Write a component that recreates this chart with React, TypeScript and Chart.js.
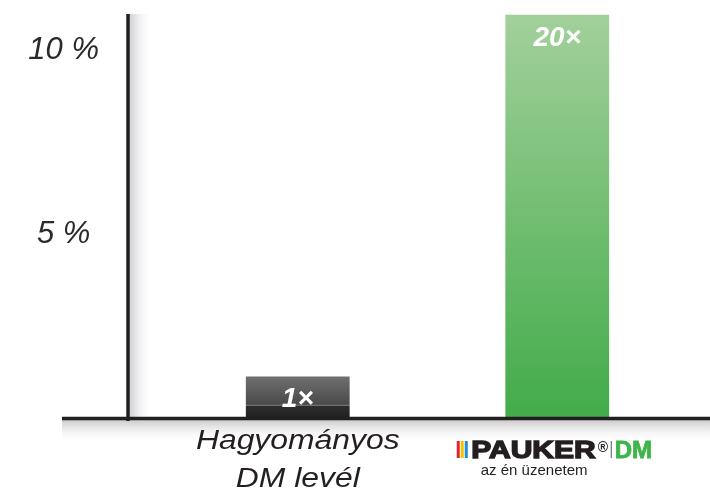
import React, { useEffect, useRef } from 'react';
import { Chart, registerables } from 'chart.js';
Chart.register(...registerables);

const categories = ['Hagyományos\nDM levél', 'PAUKER DM'];
const values = [1.15, 10.95];
const barLabels = ['1×', '20×'];
const yTicks = [5, 10];
const yMax = 11;
const logoBrand = 'PAUKER';
const logoReg = '®';
const logoSuffix = 'DM';
const logoTagline = 'az én üzenetem';
const FONT = '"Liberation Sans", Arial, Helvetica, sans-serif';

export default function App() {
  const ref = useRef<HTMLCanvasElement>(null);
  useEffect(() => {
    const canvas = ref.current!;
    const axisX = 128;
    const baseLeft = 62;

    const decor = {
      id: 'decor',
      beforeDatasetsDraw(chart: any) {
        const { ctx } = chart;
        const y0 = chart.scales.y.getPixelForValue(0);
        const yTop = chart.chartArea.top + 1;
        ctx.save();
        let g = ctx.createLinearGradient(axisX + 1, 0, axisX + 24, 0);
        g.addColorStop(0, 'rgba(196,196,202,0.85)');
        g.addColorStop(1, 'rgba(255,255,255,0)');
        ctx.fillStyle = g;
        ctx.fillRect(axisX + 1, yTop, 23, y0 - yTop);
        g = ctx.createLinearGradient(0, y0 + 1, 0, y0 + 24);
        g.addColorStop(0, 'rgba(190,190,190,0.8)');
        g.addColorStop(1, 'rgba(255,255,255,0)');
        ctx.fillStyle = g;
        ctx.fillRect(baseLeft, y0 + 1, chart.width - baseLeft, 23);
        ctx.restore();
      },
      afterDatasetsDraw(chart: any) {
        const { ctx } = chart;
        const y0 = chart.scales.y.getPixelForValue(0);
        const yTop = chart.chartArea.top + 1;
        ctx.save();
        ctx.strokeStyle = '#231f20';
        ctx.lineWidth = 3.5;
        ctx.beginPath();
        ctx.moveTo(axisX, yTop);
        ctx.lineTo(axisX, y0 + 2);
        ctx.stroke();
        ctx.beginPath();
        ctx.moveTo(baseLeft, y0 - 0.5);
        ctx.lineTo(chart.width, y0 - 0.5);
        ctx.stroke();

        const meta = chart.getDatasetMeta(0);
        ctx.fillStyle = '#ffffff';
        ctx.font = `italic bold 28px ${FONT}`;
        ctx.textAlign = 'center';
        ctx.textBaseline = 'middle';
        meta.data.forEach((el: any, i: number) => {
          ctx.fillText(barLabels[i], el.x, el.y + 23);
        });

        const xs = chart.scales.x;
        const cx0 = xs.getPixelForValue(0);
        const lines = categories[0].split('\n');
        ctx.fillStyle = '#231f20';
        ctx.font = `italic 27px ${FONT}`;
        ctx.textBaseline = 'alphabetic';
        lines.forEach((ln, k) => {
          ctx.save();
          ctx.translate(cx0, 449 + k * 37.5);
          ctx.scale(1.18, 1);
          ctx.fillText(ln, 0, 0);
          ctx.restore();
        });

        const cx1 = xs.getPixelForValue(1);
        const lx = cx1 - 100.5;
        const top = 441, bot = 458;
        const stripe = ['#e52330', '#f6c200', '#1a8fd6'];
        stripe.forEach((c, k) => {
          ctx.fillStyle = c;
          ctx.fillRect(lx + k * 4, top, 3, bot - top);
        });
        ctx.fillStyle = '#231f20';
        ctx.strokeStyle = '#231f20';
        ctx.lineWidth = 1.4;
        ctx.font = `bold 24px ${FONT}`;
        ctx.textAlign = 'left';
        ctx.save();
        ctx.translate(lx + 14.5, bot);
        ctx.scale(1.25, 1);
        ctx.fillText(logoBrand, 0, 0);
        ctx.strokeText(logoBrand, 0, 0);
        ctx.restore();
        ctx.font = `bold 14px ${FONT}`;
        ctx.fillText(logoReg, lx + 141, top + 11);
        ctx.fillStyle = '#555';
        ctx.fillRect(lx + 154, top, 1, bot - top);
        ctx.fillStyle = '#3db54a';
        ctx.strokeStyle = '#3db54a';
        ctx.lineWidth = 0.8;
        ctx.font = `bold 24px ${FONT}`;
        ctx.fillText(logoSuffix, lx + 158, bot);
        ctx.strokeText(logoSuffix, lx + 158, bot);
        ctx.fillStyle = '#231f20';
        ctx.font = `15px ${FONT}`;
        ctx.fillText(logoTagline, lx + 24, 474.5);
        ctx.restore();
      },
    };

    const chart = new Chart(canvas, {
      type: 'bar',
      data: {
        labels: categories,
        datasets: [
          {
            data: values,
            barPercentage: 0.4,
            categoryPercentage: 1,
            borderWidth: 0,
            backgroundColor: (c: any) => {
              const ch = c.chart;
              if (!ch.chartArea) return '#444';
              const ys = ch.scales.y;
              const top = ys.getPixelForValue(values[c.dataIndex]);
              const bot = ys.getPixelForValue(0);
              const g = ch.ctx.createLinearGradient(0, top, 0, bot);
              if (c.dataIndex === 0) {
                g.addColorStop(0, '#707070');
                g.addColorStop(0.655, '#4a4a4a');
                g.addColorStop(0.665, '#6e6e6e');
                g.addColorStop(0.685, '#6e6e6e');
                g.addColorStop(0.7, '#2e2e2e');
                g.addColorStop(1, '#1e1e1e');
              } else {
                g.addColorStop(0, '#a2d09b');
                g.addColorStop(1, '#42ab49');
              }
              return g;
            },
          },
        ],
      },
      options: {
        responsive: false,
        animation: false,
        devicePixelRatio: 1,
        layout: { padding: { top: 13, right: 23, bottom: 70, left: 0 } },
        plugins: { legend: { display: false }, tooltip: { enabled: false } },
        scales: {
          x: { display: false },
          y: {
            min: 0,
            max: yMax,
            grid: { display: false },
            border: { display: false },
            afterBuildTicks: (s: any) => {
              s.ticks = yTicks.map((v) => ({ value: v }));
            },
            afterFit: (s: any) => {
              s.width = 168;
              s.paddingTop = 0;
              s.paddingBottom = 0;
            },
            ticks: {
              crossAlign: 'center',
              padding: 61,
              color: '#2a2a2a',
              font: { family: FONT, size: 31, style: 'italic' },
              callback: (v: any) => `${v} %`,
            },
          },
        },
      },
      plugins: [decor],
    });
    return () => chart.destroy();
  }, []);

  return (
    <div style={{ position: 'fixed', left: 0, top: 0, width: 710, height: 489, background: '#fff' }}>
      <canvas ref={ref} width={710} height={489} style={{ width: 710, height: 489 }} />
    </div>
  );
}
